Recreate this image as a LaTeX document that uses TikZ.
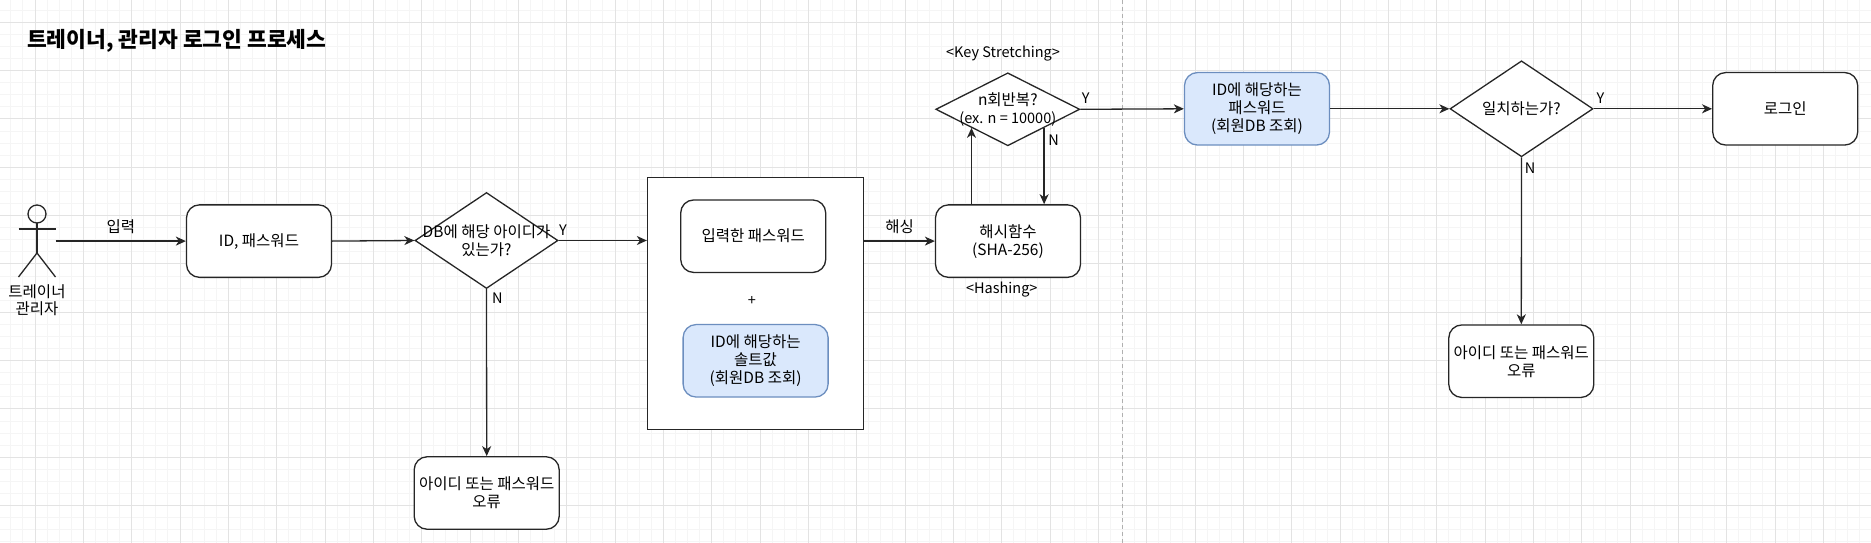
\documentclass[tikz,border=0pt]{standalone}
\usepackage{fontspec}
\setmainfont{Noto Sans CJK KR}
\usetikzlibrary{arrows.meta,calc,shapes.geometric}
\definecolor{blueA}{HTML}{DAE8FC}
\definecolor{blueB}{HTML}{6C8EBF}
\definecolor{gridmin}{HTML}{F5F5F5}
\definecolor{gridmaj}{HTML}{E3E3E3}
\definecolor{sepline}{HTML}{B0B0B0}
\definecolor{stroke}{HTML}{262626}
\begin{document}
\begin{tikzpicture}[x=1pt,y=-1pt,
  every node/.style={font=\fontsize{15.5}{18}\selectfont, text=black},
  box/.style={draw=stroke, line width=1.3pt, rounded corners=13pt, minimum width=145pt, minimum height=72.5pt, inner sep=0pt, align=center, fill=white},
  bluebox/.style={box, fill=blueA, draw=blueB},
  dia/.style={diamond, draw=stroke, line width=1.3pt, inner sep=0pt, fill=white},
  arr/.style={-{Stealth[length=10pt,width=9pt,inset=3pt]}, line width=1.3pt, draw=stroke},
  lbl/.style={inner sep=0pt, align=center},
  latin/.style={lbl, font=\fontsize{14.5}{18}\selectfont},
  figline/.style={draw=stroke, line width=1.3pt}]
\useasboundingbox (0,0) rectangle (1871,543);
\fill[white] (0,0) rectangle (1871,543);
% grid
\foreach \i in {0,...,155} \draw[gridmin, line width=1pt] ({-1.25+12.0833*\i},0) -- ++(0,543);
\foreach \j in {0,...,45} \draw[gridmin, line width=1pt] (0,{-1.87+12.0833*\j}) -- ++(1871,0);
\foreach \i in {0,...,38} \draw[gridmaj, line width=1pt] ({35+48.333*\i},0) -- ++(0,543);
\foreach \j in {0,...,11} \draw[gridmaj, line width=1pt] (0,{22.3+48.333*\j}) -- ++(1871,0);
% separator
\draw[sepline, line width=1pt, dash pattern=on 4pt off 3pt] (1122.3,0) -- (1122.3,543);
% title
\node[anchor=west, inner sep=0pt, font=\fontsize{21.5}{24}\selectfont\bfseries] (title) at (27,40.7) {트레이너, 관리자 로그인 프로세스};
% actor
\node[inner sep=0pt, minimum width=37pt, minimum height=72pt] (actor) at (37,241) {};
\draw[figline] (37,214) circle (9pt);
\draw[figline] (37,223) -- (37,253);
\draw[figline] (18.5,229) -- (55.5,229);
\draw[figline] (18.5,277) -- (37,253) -- (55.5,277);
\node[lbl, font=\fontsize{15.5}{16.5}\selectfont] (actorlbl) at (37,300) {트레이너\\관리자};
% nodes
\node[box] (idbox) at (259,241.1) {ID, 패스워드};
\node[dia, minimum width=143pt, minimum height=96pt] (d1) at (486.5,240.5) {};
\node[lbl] at (d1) {DB에 해당 아이디가\\있는가?};
\node[box] (err1) at (486.7,493) {아이디 또는 패스워드\\오류};
\node[draw=stroke, line width=1.3pt, minimum width=216pt, minimum height=252pt, inner sep=0pt, fill=white] (big) at (755.5,303.3) {};
\node[box] (pw) at (753.2,236.2) {입력한 패스워드};
\node[latin] (plus) at (751.8,300.7) {+};
\node[bluebox] (salt) at (755.6,360.8) {ID에 해당하는\\솔트값\\(회원DB 조회)};
\node[box] (hash) at (1008,241.1) {해시함수\\(SHA-256)};
\node[dia, minimum width=144pt, minimum height=73pt] (d2) at (1007.8,109.3) {};
\node[lbl] at (d2) {n회반복?\\{\fontsize{14.5}{18}\selectfont(ex. n = 10000)}};
\node[bluebox] (dbpw) at (1257,108.8) {ID에 해당하는\\패스워드\\(회원DB 조회)};
\node[dia, minimum width=143pt, minimum height=96pt] (d3) at (1521.5,108.8) {};
\node[lbl] at (d3) {일치하는가?};
\node[box] (login) at (1785.2,108.8) {로그인};
\node[box] (err2) at (1521.3,361.2) {아이디 또는 패스워드\\오류};
% labels
\node[latin] (hashing) at (1001.8,290) {<Hashing>};
\node[latin] (keyst) at (1003,54) {<Key Stretching>};
% connectors
\draw[arr] (idbox.west -| actor.east) -- (idbox.west) node[lbl, midway, above=7pt] {입력};
\draw[arr] (idbox.east) -- (d1.west);
\draw[arr] (d1.east) -- (d1.east -| big.west);
\node[latin] at (563,230) {Y};
\draw[arr] (d1.south) -- (err1.north);
\node[latin] at (497.3,298.3) {N};
\draw[arr] (hash.west -| big.east) -- (hash.west) node[lbl, midway, above=7pt] {해싱};
\coordinate (d2a) at ($(d2.west)!0.5!(d2.south)$);
\coordinate (d2b) at ($(d2.east)!0.5!(d2.south)$);
\draw[arr] (hash.north -| d2a) -- (d2a);
\draw[arr] (d2b) -- (hash.north -| d2b);
\node[latin] at (1053.6,140) {N};
\draw[arr] (d2.east) -- (dbpw.west);
\node[latin] at (1085.7,98.3) {Y};
\draw[arr] (dbpw.east) -- (d3.west);
\draw[arr] (d3.east) -- (login.west);
\node[latin] at (1600.5,98.3) {Y};
\draw[arr] (d3.south) -- (err2.north);
\node[latin] at (1530,168.3) {N};
\end{tikzpicture}
\end{document}
